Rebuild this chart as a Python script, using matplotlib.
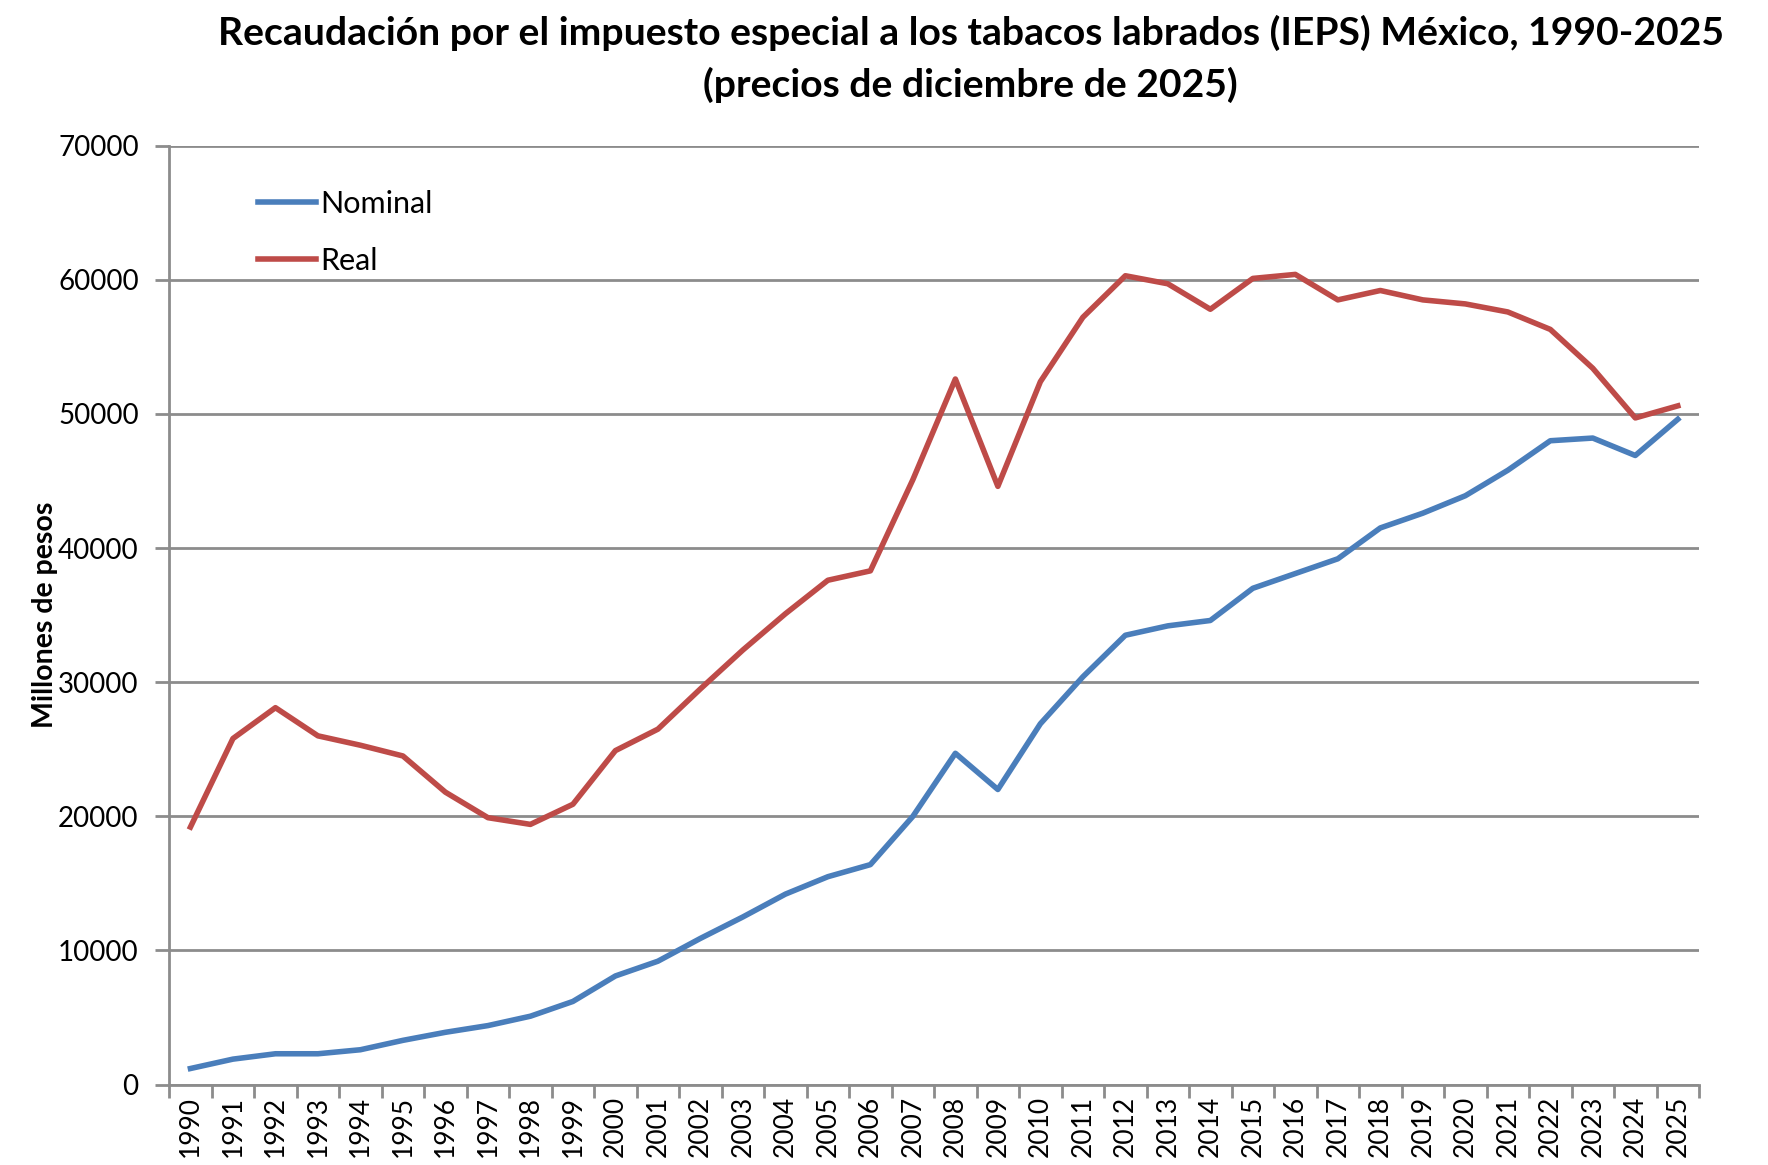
import matplotlib.pyplot as plt
import numpy as np

years = list(range(1990, 2026))
nominal = [1200, 1900, 2300, 2300, 2600, 3300, 3900, 4400, 5100, 6200,
           8100, 9200, 10900, 12500, 14200, 15500, 16400, 20000, 24700, 22000,
           26900, 30400, 33500, 34200, 34600, 37000, 38100, 39200, 41500, 42600,
           43900, 45800, 48000, 48200, 46900, 49600]
real = [19200, 25800, 28100, 26000, 25300, 24500, 21800, 19900, 19400, 20900,
        24900, 26500, 29500, 32400, 35100, 37600, 38300, 45100, 52600, 44600,
        52400, 57200, 60300, 59700, 57800, 60100, 60400, 58500, 59200, 58500,
        58200, 57600, 56300, 53400, 49700, 50600]
series_names = ["Nominal", "Real"]
colors = ["#4A7EBB", "#BE4B48"]

plt.rcParams['font.family'] = ['Lato', 'DejaVu Sans']
grid_col = "#8C8C8C"

fig = plt.figure(figsize=(17.68, 11.65), dpi=100)
ax = fig.add_axes([0.0957, 0.069, 0.8653, 0.806])

ax.plot(years, nominal, color=colors[0], lw=4, label=series_names[0])
ax.plot(years, real, color=colors[1], lw=4, label=series_names[1])

ax.set_xlim(1989.5, 2025.5)
ax.set_ylim(0, 70000)
ax.set_yticks(np.arange(0, 70001, 10000))
ax.set_yticklabels([str(v) for v in range(0, 70001, 10000)], fontsize=20)
ax.set_xticks(years)
ax.set_xticklabels([str(y) for y in years], rotation=90, fontsize=19)
ax.set_xticks(np.arange(1989.5, 2026, 1), minor=True)
ax.tick_params(axis='x', which='major', length=0, pad=8)
ax.tick_params(axis='x', which='minor', length=9, width=2, color=grid_col, direction='out')
ax.tick_params(axis='y', length=10, width=2, color=grid_col, direction='out', pad=12)

ax.grid(axis='y', color=grid_col, lw=2)
ax.set_axisbelow(True)
for s in ['top', 'right']:
    ax.spines[s].set_visible(False)
for s in ['left', 'bottom']:
    ax.spines[s].set_color(grid_col)
    ax.spines[s].set_linewidth(2)

ax.set_ylabel("Millones de pesos", fontsize=20.5, fontweight='bold', labelpad=0)

ax.legend(loc='upper left', bbox_to_anchor=(0.04, 0.982), frameon=False, fontsize=22,
          handlelength=1.9, handletextpad=0.15, labelspacing=0.95)

fig.text(0.549, 0.987, "Recaudación por el impuesto especial a los tabacos labrados (IEPS) México, 1990-2025\n(precios de diciembre de 2025)",
         ha='center', va='top', fontsize=28.2, fontweight='bold', linespacing=1.5)

fig.savefig("out.png", dpi=100)
